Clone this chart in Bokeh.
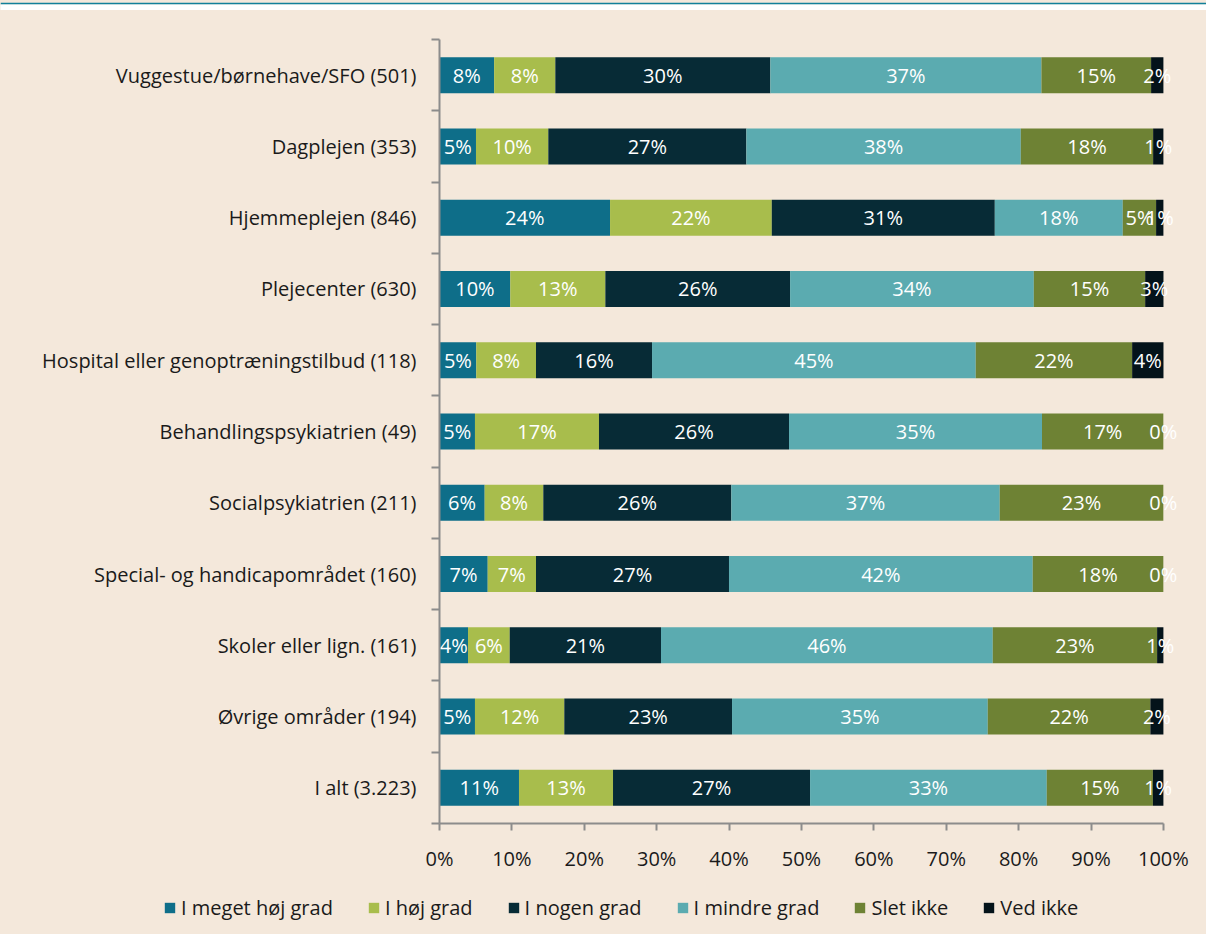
from bokeh.plotting import figure
from bokeh.layouts import column
from bokeh.models import (ColumnDataSource, FixedTicker, Legend, LegendItem,
                          Range1d, PrintfTickFormatter)
from bokeh.core.properties import value
from bokeh.embed import file_html
from bokeh.resources import INLINE

categories = [
    "Vuggestue/børnehave/SFO (501)",
    "Dagplejen (353)",
    "Hjemmeplejen (846)",
    "Plejecenter (630)",
    "Hospital eller genoptræningstilbud (118)",
    "Behandlingspsykiatrien (49)",
    "Socialpsykiatrien (211)",
    "Special- og handicapområdet (160)",
    "Skoler eller lign. (161)",
    "Øvrige områder (194)",
    "I alt (3.223)",
]

series_names = ["I meget høj grad", "I høj grad", "I nogen grad",
                "I mindre grad", "Slet ikke", "Ved ikke"]

meget_hoej = [7.55, 5.04, 23.56, 9.78, 5.08, 4.90, 6.24, 6.66, 3.94, 4.90, 10.98]
hoej = [8.45, 9.99, 22.34, 13.13, 8.25, 17.13, 8.10, 6.67, 5.76, 12.34, 12.99]
nogen = [29.70, 27.36, 30.81, 25.52, 16.03, 26.25, 25.97, 26.66, 20.90, 23.17, 27.22]
mindre = [37.45, 37.91, 17.68, 33.67, 44.72, 34.95, 37.08, 41.96, 45.83, 35.33, 32.70]
slet = [15.15, 18.28, 4.60, 15.38, 21.60, 16.76, 22.60, 18.04, 22.70, 22.46, 14.66]
ved = [1.70, 1.42, 1.01, 2.53, 4.33, 0.0, 0.0, 0.0, 0.87, 1.80, 1.45]

x_ticks = [0, 10, 20, 30, 40, 50, 60, 70, 80, 90, 100]

colors = ["#0E6E89", "#A8BD4C", "#072B36", "#5BABB0", "#6E8234", "#04131A"]
BG = "#F4E8DB"
FONT = "Open Sans"
AXIS = "#8C8C8C"
TXT = "#1A1A1A"
FS = "20px"

series = [meget_hoej, hoej, nogen, mindre, slet, ved]
n = len(categories)
ypos = [n - 1 - i for i in range(n)]

data = {"y": ypos}
for name, vals in zip(series_names, series):
    data[name] = vals
source = ColumnDataSource(data)


def no_align(fig):
    try:
        fig.frame_align = False
    except Exception:
        pass


# thin white band with a teal rule above the chart panel
top = figure(width=1206, height=10, output_backend="svg", toolbar_location=None,
             min_border_left=0, min_border_right=0, min_border_top=2,
             min_border_bottom=0)
no_align(top)
top.border_fill_color = "#12809A"
top.background_fill_color = "white"
top.outline_line_color = None
top.axis.visible = False
top.grid.visible = False

p = figure(width=1206, height=870, output_backend="svg", toolbar_location=None,
           x_range=Range1d(0, 102.5), y_range=Range1d(-0.5, n - 0.5),
           min_border_left=439, min_border_right=25, min_border_top=29,
           min_border_bottom=57)
p.background_fill_color = BG
p.border_fill_color = BG
p.outline_line_color = None
p.xgrid.grid_line_color = None
p.ygrid.grid_line_color = None

p.hbar_stack(series_names, y="y", height=0.505, color=colors,
             line_color=None, source=source)

# value labels
lx, ly, lt = [], [], []
for r in range(n):
    left = 0.0
    for vals in series:
        v = vals[r]
        lx.append(left + v / 2.0)
        ly.append(ypos[r])
        lt.append("%d%%" % int(v + 0.5))
        left += v
lab_src = ColumnDataSource(dict(x=lx, y=ly, t=lt))
p.text(x="x", y="y", text="t", source=lab_src, text_align="center",
       text_baseline="middle", text_color="white",
       text_font=value(FONT), text_font_size=FS)

# y axis
yax = p.yaxis[0]
yax.ticker = FixedTicker(ticks=ypos, minor_ticks=[i - 0.5 for i in range(n + 1)])
yax.major_label_overrides = {ypos[i]: categories[i] for i in range(n)}
yax.major_tick_line_color = None
yax.major_tick_out = 0
yax.major_tick_in = 0
yax.minor_tick_line_color = AXIS
yax.minor_tick_line_width = 2
yax.minor_tick_out = 8
yax.minor_tick_in = 0
yax.axis_line_color = AXIS
yax.axis_line_width = 2
yax.major_label_standoff = 15
yax.major_label_text_font = FONT
yax.major_label_text_font_size = FS
yax.major_label_text_color = TXT

# x axis
xax = p.xaxis[0]
xax.bounds = (0, 100)
xax.ticker = FixedTicker(ticks=x_ticks)
xax.formatter = PrintfTickFormatter(format="%d%%")
xax.major_tick_line_color = AXIS
xax.major_tick_line_width = 2
xax.major_tick_out = 7
xax.major_tick_in = 0
xax.minor_tick_line_color = None
xax.axis_line_color = AXIS
xax.axis_line_width = 2
xax.major_label_standoff = 14
xax.major_label_text_font = FONT
xax.major_label_text_font_size = FS
xax.major_label_text_color = TXT

# legend strip below the chart (its own ranges keep the bars out of view)
lg = figure(width=1206, height=54, output_backend="svg", toolbar_location=None,
            x_range=Range1d(0, 100), y_range=Range1d(100, 101),
            min_border_left=0, min_border_right=0, min_border_top=0,
            min_border_bottom=0)
no_align(lg)
lg.background_fill_alpha = 0
lg.border_fill_color = BG
lg.outline_line_color = None
lg.axis.visible = False
lg.grid.visible = False
leg_renderers = lg.hbar_stack(series_names, y="y", height=0.5, color=colors,
                              line_color=None, source=source)
items = [LegendItem(label=name, renderers=[r])
         for name, r in zip(series_names, leg_renderers)]
legend = Legend(items=items, orientation="horizontal", location=(163, 13),
                padding=5, spacing=34, glyph_width=13, glyph_height=13,
                label_standoff=5, label_text_font=FONT, label_text_font_size=FS,
                label_text_color=TXT, border_line_color=None,
                background_fill_alpha=0, margin=0)
lg.add_layout(legend, "center")

layout = column(top, p, lg, spacing=0, styles={"background-color": BG})
open("out.html", "w").write(file_html(layout, INLINE))
